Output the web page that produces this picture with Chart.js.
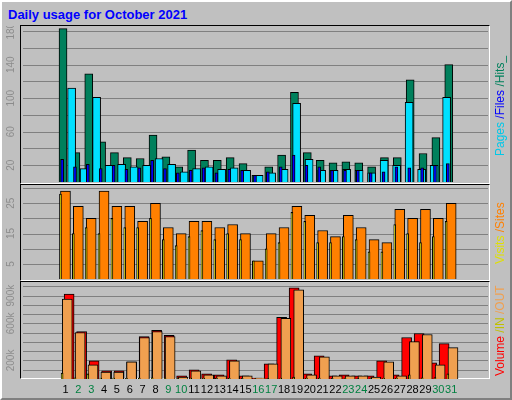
<!DOCTYPE html>
<html>
<head>
<meta charset="utf-8">
<script src="https://cdn.jsdelivr.net/npm/chart.js@4"></script>
<style>
  body { margin: 0; background: #c0c0c0; }
  #page { position: relative; width: 512px; height: 400px; box-sizing: border-box;
          border: 2px solid; border-color: #fff #808080 #808080 #fff; background: #c0c0c0;
          font-family: "Liberation Sans", Arial, sans-serif; overflow: hidden; }
  #title { position: absolute; left: 6px; top: 5px; font-size: 13px; font-weight: bold; color: #0000ff; }
  .frame { position: absolute; left: 18px; width: 470px; box-sizing: border-box;
           border: 1px solid; border-color: #000 #fff #fff #000; }
  canvas { position: absolute; left: -2px; }
  .side { position: absolute; left: 491px; width: 20px; font-size: 12px; white-space: nowrap;
          writing-mode: vertical-rl; transform: rotate(180deg); text-align: center; }
</style>
</head>
<body>
<div id="page">
  <div id="title">Daily usage for October 2021</div>
  <div class="frame" style="top:23px;height:159px"></div>
  <div class="frame" style="top:182px;height:97px"></div>
  <div class="frame" style="top:279px;height:98px"></div>
  <canvas id="c1" width="512" height="157" style="top:24px"></canvas>
  <canvas id="c2" width="512" height="95" style="top:183px"></canvas>
  <canvas id="c3" width="512" height="120" style="top:280px"></canvas>
  <div class="side" style="top:26px;height:155px"><span style="color:#00c8e8">Pages</span><span style="color:#0000ff"> /Files</span><span style="color:#00805c"> /Hits_</span></div>
  <div class="side" style="top:184px;height:94px"><span style="color:#e0e000">Visits</span><span style="color:#ff8000"> /Sites</span></div>
  <div class="side" style="top:281px;height:96px"><span style="color:#ff0000">Volume</span><span style="color:#c0c000"> /IN</span><span style="color:#f0a050"> /OUT</span></div>
</div>
<script>
const days = Array.from({ length: 31 }, (_, i) => i + 1);
const weekends = [2, 3, 9, 10, 16, 17, 23, 24, 30, 31];

const hits  = [183, 35, 129, 48, 35, 29, 28, 56, 30, 18, 38, 26, 26, 29, 22, 8, 18, 32, 107, 35, 26, 23, 24, 23, 18, 29, 29, 122, 34, 53, 140];
const pages = [112, 16, 101, 20, 21, 18, 20, 28, 21, 12, 16, 18, 15, 17, 14, 8, 11, 15, 94, 27, 14, 14, 15, 14, 11, 26, 20, 95, 15, 20, 101];
const files = [27, 18, 21, 16, 20, 15, 17, 26, 16, 11, 14, 17, 11, 15, 14, 8, 12, 18, 32, 20, 18, 14, 14, 14, 11, 12, 18, 17, 17, 20, 22];

const sites  = [29, 24, 20, 29, 24, 24, 19, 25, 17, 15, 19, 19, 17, 18, 15, 6, 15, 17, 24, 21, 16, 14, 21, 17, 13, 12, 23, 20, 23, 20, 25];
const visits = [28, 15, 17, 15, 20, 17, 17, 20, 13, 11, 14, 16, 13, 15, 13, 6, 10, 12, 22, 19, 12, 12, 14, 13, 9, 9, 18, 15, 12, 14, 19];

// KB
const volume = [917, 513, 197, 87, 87, 186, 459, 524, 470, 33, 98, 55, 44, 207, 33, 11, 164, 666, 983, 55, 251, 33, 44, 33, 33, 197, 44, 448, 491, 175, 382];
const outKB  = [862, 502, 153, 76, 76, 186, 448, 513, 459, 22, 87, 44, 33, 197, 33, 11, 164, 655, 961, 44, 240, 33, 33, 33, 22, 186, 33, 404, 480, 153, 339];
const inKB   = [65, 12, 55, 10, 10, 6, 10, 12, 10, 6, 10, 8, 6, 8, 6, 4, 6, 10, 20, 8, 10, 6, 8, 6, 6, 8, 8, 44, 12, 15, 55];

const topTicks = ['20', '60', '100', '140', '180'];
const midTicks = ['5', '15', '25'];
const botTicks = ['200k', '600k', '900k'];

Chart.defaults.font.family = '"Liberation Sans", Arial, sans-serif';
Chart.defaults.animation = false;

const shiftAxis = (d) => ({ type: 'linear', display: false, min: 0.5 - d, max: 31.5 - d });

const labelPlugin = {
  id: 'labels',
  beforeDatasetsDraw(chart, args, opts) {
    // horizontal grid lines
    const ctx = chart.ctx, y = chart.scales.y, a = chart.chartArea;
    ctx.save();
    ctx.strokeStyle = '#808080';
    ctx.lineWidth = 1;
    for (let v = opts.step; v <= y.max; v += opts.step) {
      const py = Math.round(y.getPixelForValue(v)) + 0.5;
      ctx.beginPath(); ctx.moveTo(a.left, py); ctx.lineTo(a.right, py); ctx.stroke();
    }
    ctx.restore();
  },
  afterDraw(chart, args, opts) {
    const ctx = chart.ctx;
    const y = chart.scales.y;
    ctx.save();
    ctx.fillStyle = '#8c8c8c';
    ctx.font = '10px "Liberation Sans", Arial, sans-serif';
    ctx.textAlign = 'center';
    ctx.textBaseline = 'middle';
    opts.ticks.forEach(t => {
      ctx.save();
      ctx.translate(11, y.getPixelForValue(parseFloat(t)));
      ctx.rotate(-Math.PI / 2);
      ctx.fillText(t, 0, 0);
      ctx.restore();
    });
    if (opts.xLabels) {
      const x = chart.scales.xl;
      ctx.font = '11px "Liberation Sans", Arial, sans-serif';
      days.forEach(d => {
        ctx.fillStyle = weekends.includes(d) ? '#008040' : '#000';
        ctx.fillText(String(d), x.getPixelForValue(d), chart.chartArea.bottom + 11);
      });
    }
    ctx.restore();
  }
};

function bar(data, color, axis, width, order) {
  return {
    data: days.map((d, i) => ({ x: d, y: data[i] })),
    backgroundColor: color, borderColor: '#000', borderWidth: 1, borderSkipped: 'bottom',
    xAxisID: axis, barThickness: width, order: order, grouped: false
  };
}

function makeChart(id, datasets, max, step, shifts, ticks, padBottom, xLabels) {
  const scales = {
    y: { display: false, min: 0, max: max },
    xl: shiftAxis(0.22)
  };
  Object.keys(shifts).forEach(k => { scales[k] = shiftAxis(shifts[k]); });
  return new Chart(document.getElementById(id), {
    type: 'bar',
    data: { datasets: datasets },
    options: {
      responsive: false, devicePixelRatio: 1,
      layout: { padding: { left: 23, right: 24, top: 1, bottom: padBottom } },
      plugins: { legend: { display: false }, tooltip: { enabled: false },
                 labels: { ticks: ticks, xLabels: xLabels, step: step } },
      scales: scales
    },
    plugins: [labelPlugin]
  });
}

makeChart('c1', [
  bar(hits, '#00805c', 'xh', 8, 3),
  bar(pages, '#00e0ff', 'xp', 8, 2),
  bar(files, '#0000ff', 'xf', 3, 1)
], 185, 20, { xh: 0.03, xp: 0.29, xf: -0.04 }, topTicks, 1, false);

makeChart('c2', [
  bar(sites, '#ff8000', 'xs', 10, 2),
  bar(visits, '#ffff00', 'xv', 2, 1)
], 30.7, 5, { xs: 0.22, xv: -0.17 }, midTicks, 1, false);

makeChart('c3', [
  bar(volume, '#ff0000', 'xvol', 10, 3),
  bar(outKB, '#f0a050', 'xo', 10, 2),
  bar(inKB, '#ffff00', 'xi', 2, 1)
], 1036, 100, { xvol: 0.09, xo: 0.36, xi: -0.04 }, botTicks, 23, true);
</script>
</body>
</html>
